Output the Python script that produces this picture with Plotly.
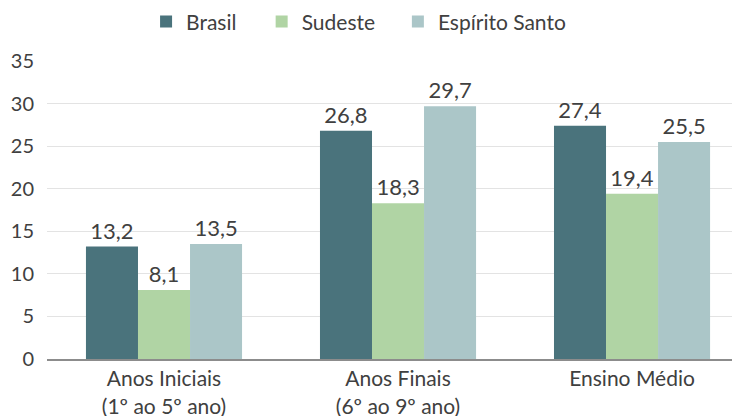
import plotly.graph_objects as go

categorias = ["Anos Iniciais<br>(1º ao 5º ano)", "Anos Finais<br>(6º ao 9º ano)", "Ensino Médio"]
brasil = [13.2, 26.8, 27.4]
sudeste = [8.1, 18.3, 19.4]
espirito_santo = [13.5, 29.7, 25.5]

series = [
    ("Brasil", brasil, "#4a737c", "legend", 0.144),
    ("Sudeste", sudeste, "#b0d4a4", "legend2", 0.312),
    ("Espírito Santo", espirito_santo, "#abc6c8", "legend3", 0.510),
]

fig = go.Figure()
legendas = {}
for nome, vals, cor, leg, lx in series:
    fig.add_trace(go.Bar(
        name=nome, x=categorias, y=vals, marker_color=cor,
        marker_line_width=0, legend=leg,
        text=[f"{v:.1f}".replace(".", ",") for v in vals],
        textposition="outside", cliponaxis=False,
        textfont=dict(size=22, color="#404040"),
    ))
    # one legend box per series so the spacing can follow the reference
    legendas[leg] = dict(orientation="h", x=lx, xanchor="left", y=1.131, yanchor="middle",
                         font=dict(size=21), bgcolor="rgba(0,0,0,0)")

# the page body has an 8px margin, so the figure is 8px smaller than the window
fig.update_layout(
    width=732, height=408,
    barmode="group", bargap=0.333, bargroupgap=0,
    plot_bgcolor="white", paper_bgcolor="white",
    font=dict(family="Lato", size=21, color="#404040"),
    margin=dict(l=39, r=5, t=53, b=57, autoexpand=False),
    showlegend=True,
    **legendas,
)
fig.update_yaxes(range=[0, 35], dtick=5, gridcolor="#e3e3e3", gridwidth=1,
                 zeroline=False, tickfont=dict(size=20), ticks="", ticklabelstandoff=12,
                 automargin=False)
fig.update_xaxes(range=[-0.5, 2.44], showline=True, linecolor="#8c8c8c", linewidth=2,
                 tickfont=dict(size=21), automargin=False)

fig.write_html("out.html")
